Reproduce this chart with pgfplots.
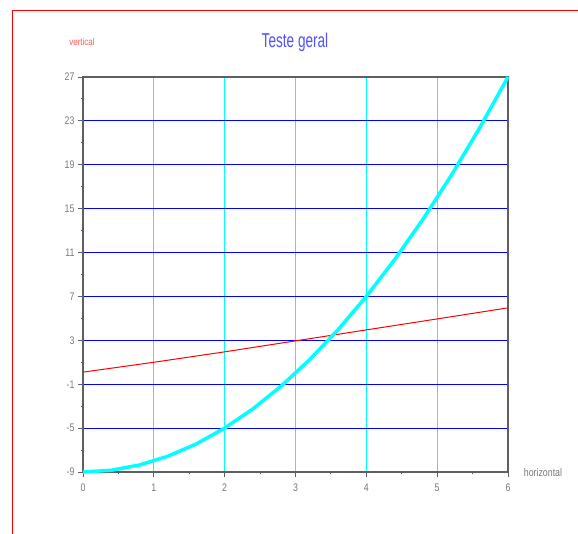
\documentclass[border=0pt]{standalone}
\usepackage{pgfplots}
\pgfplotsset{compat=1.18}
\usepackage{fontspec}
\setmainfont{Liberation Sans}
\newfontfamily\cond{Liberation Sans}[FakeStretch=0.8]
\newfontfamily\condt{Liberation Sans}[FakeStretch=0.68]
\definecolor{titleblue}{RGB}{80,80,255}
\definecolor{labred}{RGB}{255,90,90}
\definecolor{tickgray}{RGB}{120,120,120}
\definecolor{axgray}{RGB}{95,95,95}
\definecolor{cy}{RGB}{0,255,255}
\definecolor{bl}{RGB}{0,0,255}
\definecolor{rd}{RGB}{255,0,0}
\begin{document}
\begin{tikzpicture}[x=1pt,y=1pt]
\useasboundingbox (0,0) rectangle (578,534);
\draw[rd, line width=0.8pt] (12,0) -- (12,524) -- (578,524);
\begin{axis}[
  at={(83pt,62pt)}, anchor=south west,
  scale only axis, width=425pt, height=395pt,
  xmin=0, xmax=6, ymin=-9, ymax=27,
  xtick={0,1,...,6}, ytick={-9,-5,...,27},
  minor x tick num=1, minor y tick num=1,
  xtick pos=bottom, ytick pos=left,
  tick align=outside,
  major tick length=5pt, minor tick length=2.5pt,
  tick style={axgray, line width=0.9pt},
  /pgf/number format/assume math mode=true,
  ticklabel style={font=\cond\fontsize{11}{11}\selectfont, text=tickgray},
  xticklabel style={yshift=-3pt},
  xmajorgrids, ymajorgrids,
  major x grid style={cy, line width=1pt},
  major y grid style={bl, line width=0.9pt},
  axis line style={axgray, line width=1.2pt},
  clip=false,
]
\addplot[rd, line width=1pt] coordinates {(0,0.1) (1,1.0) (2,1.95) (3,2.95) (4,3.95) (5,4.95) (6,5.96)};
\addplot[cy, line width=3.5pt, line join=round] coordinates {
(0,-9) (0.4,-8.84) (0.8,-8.36) (1.2,-7.56) (1.6,-6.44) (2.0,-5) (2.4,-3.24)
(2.8,-1.16) (3.2,1.24) (3.6,3.96) (4.0,7) (4.4,10.36) (4.8,14.04)
(5.2,18.04) (5.6,22.36) (6.0,27)};
\end{axis}
\node[text=titleblue, font=\condt\fontsize{20}{20}\selectfont] at (295,492) {Teste geral};
\node[text=labred, font=\cond\fontsize{10}{10}\selectfont] at (82,492) {vertical};
\node[text=tickgray, font=\cond\fontsize{11}{11}\selectfont] at (543,61) {horizontal};
\end{tikzpicture}
\end{document}
